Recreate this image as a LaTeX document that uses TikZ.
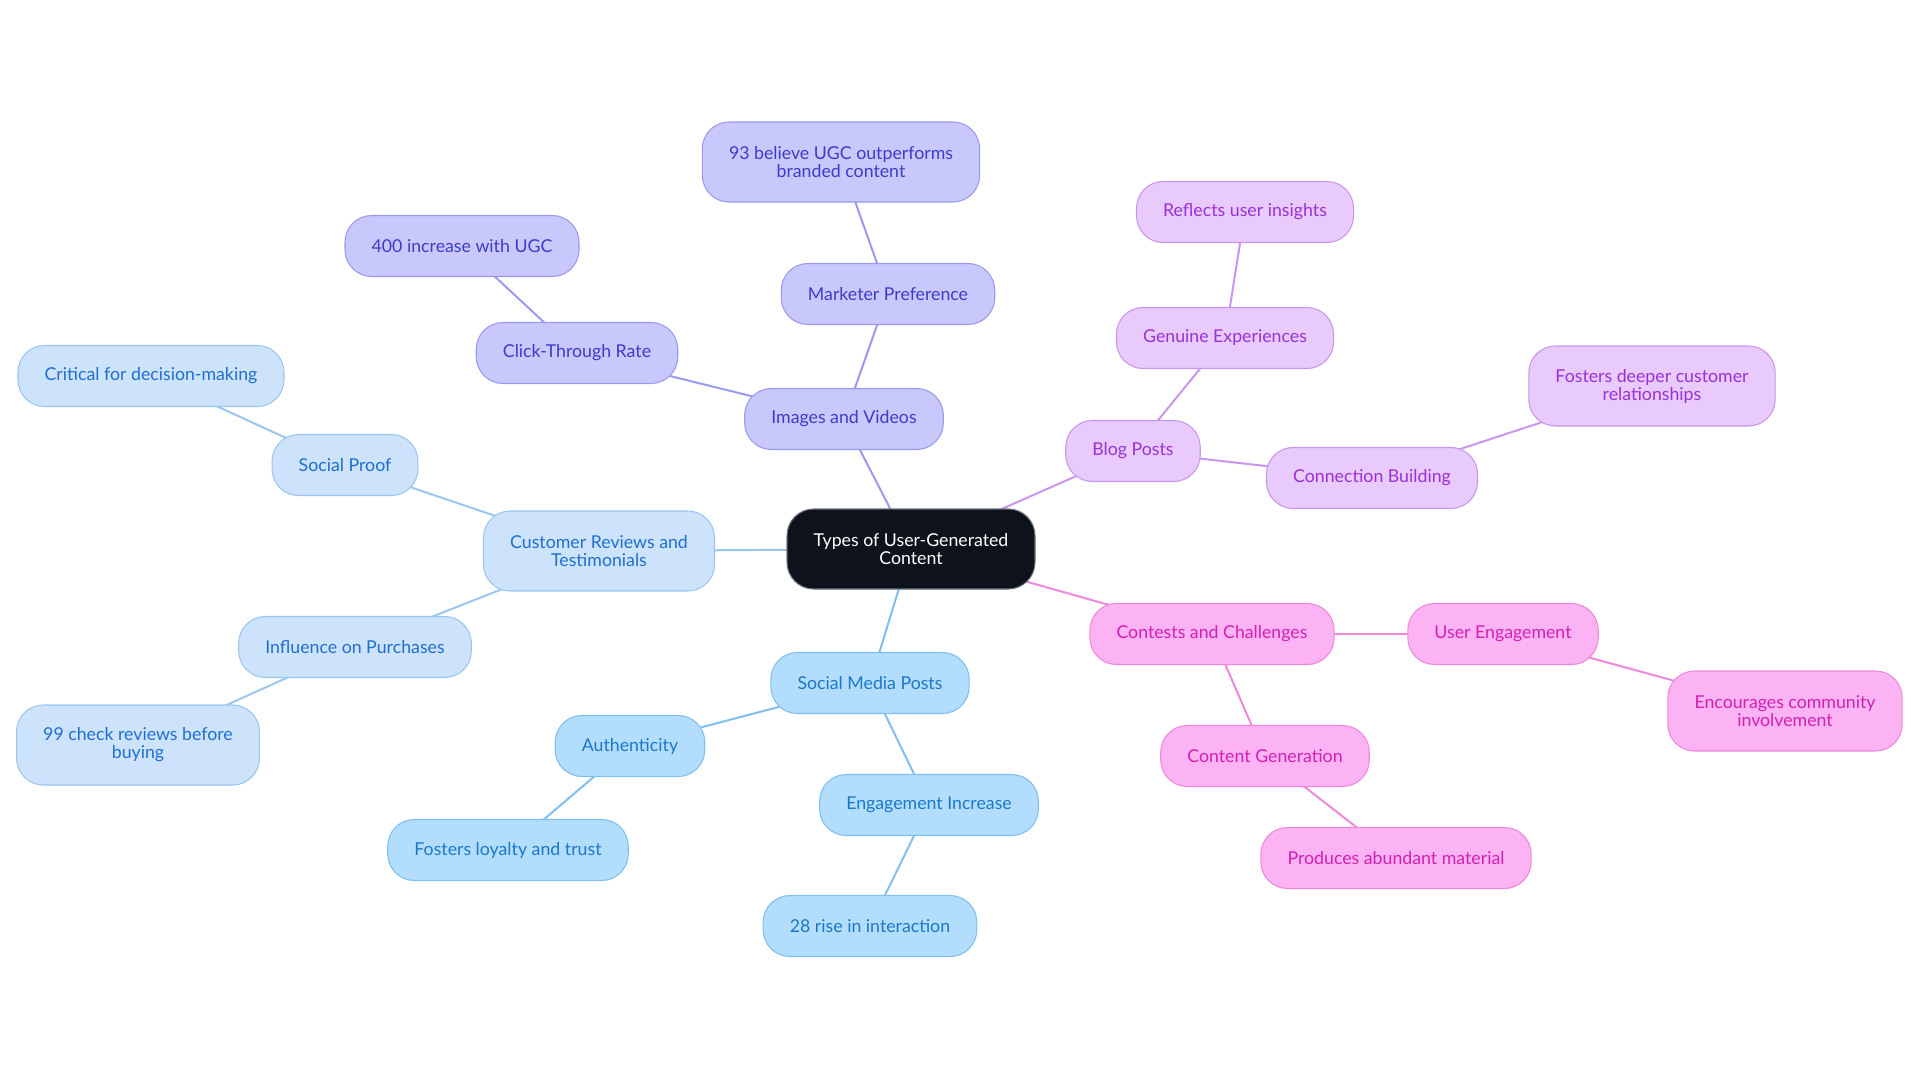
\documentclass[tikz,border=0pt]{standalone}
\usepackage{fontspec}
\setmainfont{Lato}
\usetikzlibrary{backgrounds}

\definecolor{rootfill}{HTML}{0D121B}
\definecolor{rootline}{HTML}{6B7280}
\definecolor{revfill}{HTML}{CCE3FB}
\definecolor{revline}{HTML}{9CC6F2}
\definecolor{revtext}{HTML}{1F6FD0}
\definecolor{socfill}{HTML}{B3DDFD}
\definecolor{socline}{HTML}{7FC0F0}
\definecolor{soctext}{HTML}{1A78C8}
\definecolor{confill}{HTML}{FBB3F3}
\definecolor{conline}{HTML}{EE88DD}
\definecolor{context}{HTML}{D21FB5}
\definecolor{blogfill}{HTML}{E8CAFC}
\definecolor{blogline}{HTML}{C896EE}
\definecolor{blogtext}{HTML}{9A30D6}
\definecolor{imgfill}{HTML}{C8C8FC}
\definecolor{imgline}{HTML}{9A9AF0}
\definecolor{imgtext}{HTML}{3C3CC8}

\begin{document}
\begin{tikzpicture}[
    x=0.75pt, y=-0.75pt,
    mind/.style={rectangle, draw, rounded corners=20pt, line width=0.8pt, minimum height=45.75pt, inner xsep=20pt, align=center, font=\fontsize{13.3}{13.5}\selectfont},
    tall/.style={minimum height=60pt},
    root/.style={mind, tall, fill=rootfill, draw=rootline, text=white},
    rev/.style={mind, fill=revfill, draw=revline, text=revtext},
    soc/.style={mind, fill=socfill, draw=socline, text=soctext},
    con/.style={mind, fill=confill, draw=conline, text=context},
    blog/.style={mind, fill=blogfill, draw=blogline, text=blogtext},
    img/.style={mind, fill=imgfill, draw=imgline, text=imgtext},
    link/.style={line width=1.5pt}
]
    \useasboundingbox (0,0) rectangle (1920,1083);

    % centre
    \node[root] (ugc) at (911,549) {Types of User-Generated\\Content};

    % reviews branch
    \node[rev, tall] (reviews) at (599,551) {Customer Reviews and\\Testimonials};
    \node[rev] (proof) at (345,465) {Social Proof};
    \node[rev] (critical) at (151,376) {Critical for decision-making};
    \node[rev] (influence) at (355,647) {Influence on Purchases};
    \node[rev, tall] (check) at (138,745) {99 check reviews before\\buying};

    % images branch
    \node[img] (images) at (844,419) {Images and Videos};
    \node[img] (ctr) at (577,353) {Click-Through Rate};
    \node[img] (increase) at (462,246) {400 increase with UGC};
    \node[img] (marketer) at (888,294) {Marketer Preference};
    \node[img, tall] (believe) at (841,162) {93 believe UGC outperforms\\branded content};

    % blog branch
    \node[blog] (blog) at (1133,451) {Blog Posts};
    \node[blog] (genuine) at (1225,338) {Genuine Experiences};
    \node[blog] (reflects) at (1245,212) {Reflects user insights};
    \node[blog] (connection) at (1372,478) {Connection Building};
    \node[blog, tall] (deeper) at (1652,386) {Fosters deeper customer\\relationships};

    % contests branch
    \node[con] (contests) at (1212,634) {Contests and Challenges};
    \node[con] (engage) at (1503,634) {User Engagement};
    \node[con, tall] (community) at (1785,711) {Encourages community\\involvement};
    \node[con] (generation) at (1265,756) {Content Generation};
    \node[con] (abundant) at (1396,858) {Produces abundant material};

    % social branch
    \node[soc] (social) at (870,683) {Social Media Posts};
    \node[soc] (authentic) at (630,746) {Authenticity};
    \node[soc] (loyalty) at (508,850) {Fosters loyalty and trust};
    \node[soc] (engincrease) at (929,805) {Engagement Increase};
    \node[soc] (rise) at (870,926) {28 rise in interaction};

    \begin{scope}[on background layer]
        \draw[link, revline] (ugc.center) -- (reviews.center);
        \draw[link, revline] (reviews.center) -- (proof.center);
        \draw[link, revline] (proof.center) -- (critical.center);
        \draw[link, revline] (reviews.center) -- (influence.center);
        \draw[link, revline] (influence.center) -- (check.center);

        \draw[link, imgline] (ugc.center) -- (images.center);
        \draw[link, imgline] (images.center) -- (ctr.center);
        \draw[link, imgline] (ctr.center) -- (increase.center);
        \draw[link, imgline] (images.center) -- (marketer.center);
        \draw[link, imgline] (marketer.center) -- (believe.center);

        \draw[link, blogline] (ugc.center) -- (blog.center);
        \draw[link, blogline] (blog.center) -- (genuine.center);
        \draw[link, blogline] (genuine.center) -- (reflects.center);
        \draw[link, blogline] (blog.center) -- (connection.center);
        \draw[link, blogline] (connection.center) -- (deeper.center);

        \draw[link, conline] (ugc.center) -- (contests.center);
        \draw[link, conline] (contests.center) -- (engage.center);
        \draw[link, conline] (engage.center) -- (community.center);
        \draw[link, conline] (contests.center) -- (generation.center);
        \draw[link, conline] (generation.center) -- (abundant.center);

        \draw[link, socline] (ugc.center) -- (social.center);
        \draw[link, socline] (social.center) -- (authentic.center);
        \draw[link, socline] (authentic.center) -- (loyalty.center);
        \draw[link, socline] (social.center) -- (engincrease.center);
        \draw[link, socline] (engincrease.center) -- (rise.center);
    \end{scope}

\end{tikzpicture}
\end{document}
